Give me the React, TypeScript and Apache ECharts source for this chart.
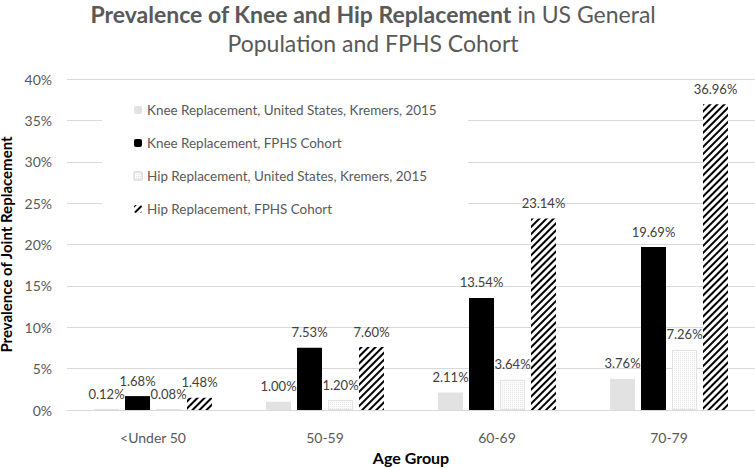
import React, { useEffect, useRef } from "react";
import * as echarts from "echarts";

const categories = ["<Under 50", "50-59", "60-69", "70-79"];
const kneeUS = [0.12, 1.0, 2.11, 3.76];
const kneeFPHS = [1.68, 7.53, 13.54, 19.69];
const hipUS = [0.08, 1.2, 3.64, 7.26];
const hipFPHS = [1.48, 7.6, 23.14, 36.96];
const seriesNames = [
  "Knee Replacement, United States, Kremers, 2015",
  "Knee Replacement, FPHS Cohort",
  "Hip Replacement, United States, Kremers, 2015",
  "Hip Replacement, FPHS Cohort",
];
const yTicks = [0, 5, 10, 15, 20, 25, 30, 35, 40];

const FONT = "Lato, 'Open Sans', sans-serif";

function fitFont(text: string, base: number, target: number, weight = "normal") {
  try {
    const ctx = document.createElement("canvas").getContext("2d");
    if (!ctx) return base;
    ctx.font = `${weight} ${base}px Lato`;
    const w = ctx.measureText(text).width;
    if (!w) return base;
    const f = (base * target) / w;
    return Math.max(base * 0.85, Math.min(base * 1.2, f));
  } catch (e) {
    return base;
  }
}

export default function App() {
  const ref = useRef<HTMLDivElement>(null);
  useEffect(() => {
    if (!ref.current) return;
    const chart = echarts.init(ref.current, null, { renderer: "svg" });
    const legendFont = fitFont(seriesNames[0], 13.5, 290);
    const label = {
      show: true,
      position: "top",
      distance: 9,
      color: "#404040",
      fontSize: 13,
      fontFamily: FONT,
      formatter: (p: any) => p.value.toFixed(2) + "%",
    };
    const common = {
      type: "bar",
      barWidth: 25,
      barGap: "24%",
      label,
    };
    chart.setOption({
      animation: false,
      textStyle: { fontFamily: FONT },
      graphic: [
        {
          type: "text",
          x: 373,
          y: 14,
          style: {
            text: "{b|Prevalence of Knee and Hip Replacement} in US General",
            align: "center",
            verticalAlign: "middle",
            rich: {
              b: { fontWeight: "bold", fontSize: 23, fill: "#595959", fontFamily: FONT },
            },
            fontSize: 23,
            fill: "#595959",
            fontFamily: FONT,
          },
        },
        {
          type: "text",
          x: 373,
          y: 43,
          style: {
            text: "Population and FPHS Cohort",
            align: "center",
            verticalAlign: "middle",
            fontSize: 23,
            fill: "#595959",
            fontFamily: FONT,
          },
        },
        {
          type: "rect",
          z: 1,
          shape: { x: 102, y: 90, width: 366, height: 136 },
          style: { fill: "#ffffff" },
        },
      ],
      legend: {
        orient: "vertical",
        left: 133,
        top: 103,
        padding: 0,
        itemWidth: 8,
        itemHeight: 8,
        itemGap: 19,
        data: seriesNames,
        textStyle: { color: "#595959", fontSize: legendFont, lineHeight: 14, fontFamily: FONT },
      },
      grid: { left: 67, right: 0, top: 79, bottom: 59, outerBoundsMode: "none" },
      xAxis: {
        type: "category",
        data: categories,
        axisLine: { lineStyle: { color: "#d9d9d9" } },
        axisTick: { show: false },
        axisLabel: { color: "#595959", fontSize: 14, margin: 20, fontFamily: FONT },
        name: "Age Group",
        nameLocation: "middle",
        nameGap: 39,
        nameTextStyle: { fontWeight: "bold", fontSize: 16, color: "#000", fontFamily: FONT },
      },
      yAxis: {
        type: "value",
        min: yTicks[0],
        max: yTicks[yTicks.length - 1],
        interval: 5,
        axisLabel: {
          color: "#595959",
          fontSize: 14,
          margin: 15,
          fontFamily: FONT,
          formatter: (v: number) => v + "%",
        },
        splitLine: { lineStyle: { color: "#d9d9d9" } },
        name: "Prevalence of Joint Replacement",
        nameLocation: "middle",
        nameGap: 46,
        nameTextStyle: { fontWeight: "bold", fontSize: 15, color: "#000", fontFamily: FONT },
      },
      series: [
        { ...common, name: seriesNames[0], data: kneeUS, itemStyle: { color: "#e2e2e2" } },
        { ...common, name: seriesNames[1], data: kneeFPHS, itemStyle: { color: "#000" } },
        {
          ...common,
          name: seriesNames[2],
          data: hipUS,
          itemStyle: {
            color: "#fcfcfc",
            borderColor: "#e3e3e3",
            borderWidth: 1,
            decal: {
              symbol: "rect",
              symbolSize: 1,
              color: "#e6e6e6",
              dashArrayX: [1, 1],
              dashArrayY: [1, 1],
            },
          },
        },
        {
          ...common,
          name: seriesNames[3],
          data: hipFPHS,
          itemStyle: {
            color: "#fff",
            decal: {
              symbol: "rect",
              symbolSize: 1,
              color: "#000",
              dashArrayX: [1, 0],
              dashArrayY: [2, 3],
              rotation: -Math.PI / 4,
            },
          },
        },
      ],
    });
    return () => chart.dispose();
  }, []);
  return <div ref={ref} style={{ width: 755, height: 469, position: "absolute", left: 0, top: 0 }} />;
}
